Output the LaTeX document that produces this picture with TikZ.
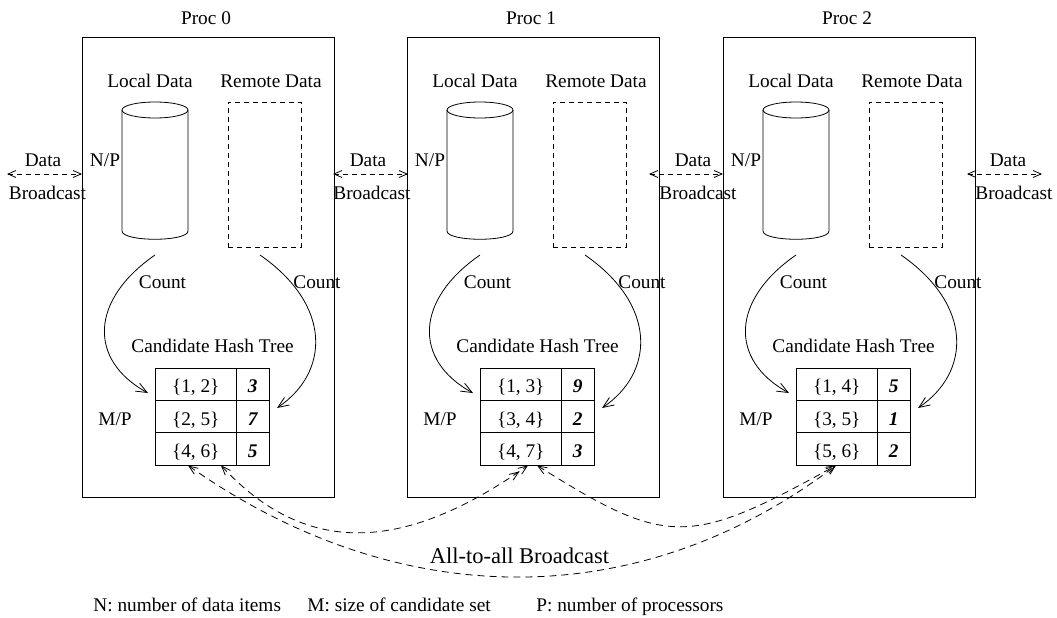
\documentclass[tikz,border=0pt]{standalone}
\usepackage{fontspec}
\setmainfont{Liberation Serif}
\usetikzlibrary{arrows.meta}
\tikzset{
  obarb/.tip={Straight Barb[length=8pt,width=7pt]},
  cbarb/.tip={Straight Barb[length=11pt,width=9pt]},
  abarb/.tip={Straight Barb[length=9pt,width=7pt]},
  dbarb/.tip={Straight Barb[length=9pt,width=7pt]Straight Barb[length=9pt,width=7pt]},
}
\begin{document}
\begin{tikzpicture}[x=1pt,y=-1pt,line width=0.8pt,
  every node/.style={inner sep=0pt,font=\fontsize{19.3pt}{23pt}\selectfont},
  lbl/.style={anchor=base},
  procbox/.style={draw,minimum width=252pt,minimum height=460pt},
  remotebox/.style={draw,dash pattern=on 5pt off 4pt,minimum width=73pt,minimum height=145pt},
  setcell/.style={draw,minimum width=81.5pt,minimum height=32.33pt,text height=19pt,text depth=2pt},
  cntcell/.style={draw,minimum width=32.5pt,minimum height=32.33pt,text height=19pt,text depth=2pt,
    font=\fontsize{19.3pt}{23pt}\selectfont\bfseries\itshape},
  countarrow/.style={-cbarb},
  bcast/.style={dash pattern=on 5pt off 4pt,obarb-obarb},
  alltoall/.style={dash pattern=on 7pt off 5pt,abarb-abarb},
]
\fill[white] (0,0) rectangle (1057,618);
\useasboundingbox (0,0) rectangle (1057,618);

% one processor: frame, local and remote data, counting arrows, hash tree
\foreach \i/\dx/\ra/\rb/\rc/\sa/\sb/\sc/\ta/\tb/\tc in
  {0/0/1/2/3/2/5/7/4/6/5, 1/325/1/3/9/3/4/2/4/7/3, 2/641/1/4/5/3/5/1/5/6/2}{
  \node[procbox] (box\i) at ({208+\dx},267) {};
  \node[lbl] (proc\i) at ({206+\dx},25) {Proc \i};
  \node[lbl] (local\i) at ({150+\dx},88) {Local Data};
  \node[lbl] (remote\i) at ({271+\dx},88) {Remote Data};
  % local data cylinder
  \draw ({122+\dx},110) -- ({122+\dx},231)
        .. controls ({122+\dx},242) and ({188+\dx},242) .. ({188+\dx},231)
        -- ({188+\dx},110);
  \draw ({155+\dx},110) ellipse[x radius=33pt,y radius=8pt];
  \node[remotebox] (rbox\i) at ({264.5+\dx},174.5) {};
  \node[lbl] (np\i) at ({105+\dx},166) {N/P};
  % hash tree table
  \node[lbl] (cht\i) at ({212.5+\dx},352) {Candidate Hash Tree};
  \node[setcell] (s1\i) at ({195.75+\dx},384.17) {\{\ra, \rb\}};
  \node[cntcell] (n1\i) at ({252.75+\dx},384.17) {\rc};
  \node[setcell] (s2\i) at ({195.75+\dx},416.5) {\{\sa, \sb\}};
  \node[cntcell] (n2\i) at ({252.75+\dx},416.5) {\sc};
  \node[setcell] (s3\i) at ({195.75+\dx},448.83) {\{\ta, \tb\}};
  \node[cntcell] (n3\i) at ({252.75+\dx},448.83) {\tc};
  \node[lbl] (mp\i) at ({115+\dx},425) {M/P};
  % counting arrows into the table
  \coordinate (lcs\i) at ({155+\dx},255);
  \coordinate (rcs\i) at ({260+\dx},255);
  \coordinate (lce\i) at ({148+\dx},393);
  \coordinate (rce\i) at ({277+\dx},408);
  \draw[countarrow] (lcs\i) .. controls ({90+\dx},300) and ({88+\dx},360) .. (lce\i);
  \draw[countarrow] (rcs\i) .. controls ({332+\dx},305) and ({330+\dx},372) .. (rce\i);
  \node[lbl] (lcount\i) at ({162.5+\dx},288) {Count};
  \node[lbl] (rcount\i) at ({317+\dx},288) {Count};
}

% data broadcast links
\foreach \k/\xl/\xr/\xd/\xb in {0/7/82/43/47.5, 1/333/408/368/372, 2/649/723/693/698, 3/967/1042/1008/1014}{
  \coordinate (dbl\k) at (\xl,174);
  \coordinate (dbr\k) at (\xr,174);
  \draw[bcast] (dbl\k) -- (dbr\k);
  \node[lbl] (dbdata\k) at (\xd,166) {Data};
  \node[lbl] (dbcast\k) at (\xb,199) {Broadcast};
}

% all-to-all broadcast between the hash trees
\coordinate (a0l) at ([xshift=-7.75pt]s30.south);
\coordinate (a0r) at ([xshift=25.25pt]s30.south);
\coordinate (a1l) at ([xshift=7.25pt]s31.south);
\coordinate (a1r) at ([xshift=16.25pt]s31.south);
\coordinate (a2) at ([xshift=-0.75pt]s32.south);
\draw[alltoall,abarb-dbarb] (a0r) .. controls (304,555) and (401,555) .. (a1l);
\draw[alltoall] (a1r) .. controls (667,547) and (689,547) .. (a2);
\draw[alltoall] (a0l) .. controls (399,614) and (640,614) .. (a2);
\node[lbl,font=\fontsize{22.5pt}{27pt}\selectfont] (ata) at (519.5,563) {All-to-all Broadcast};

% legend
\node[anchor=base west] (legN) at (93,611) {N: number of data items};
\node[anchor=base west] (legM) at (307,611) {M: size of candidate set};
\node[anchor=base west] (legP) at (536,611) {P: number of processors};
\end{tikzpicture}
\end{document}
